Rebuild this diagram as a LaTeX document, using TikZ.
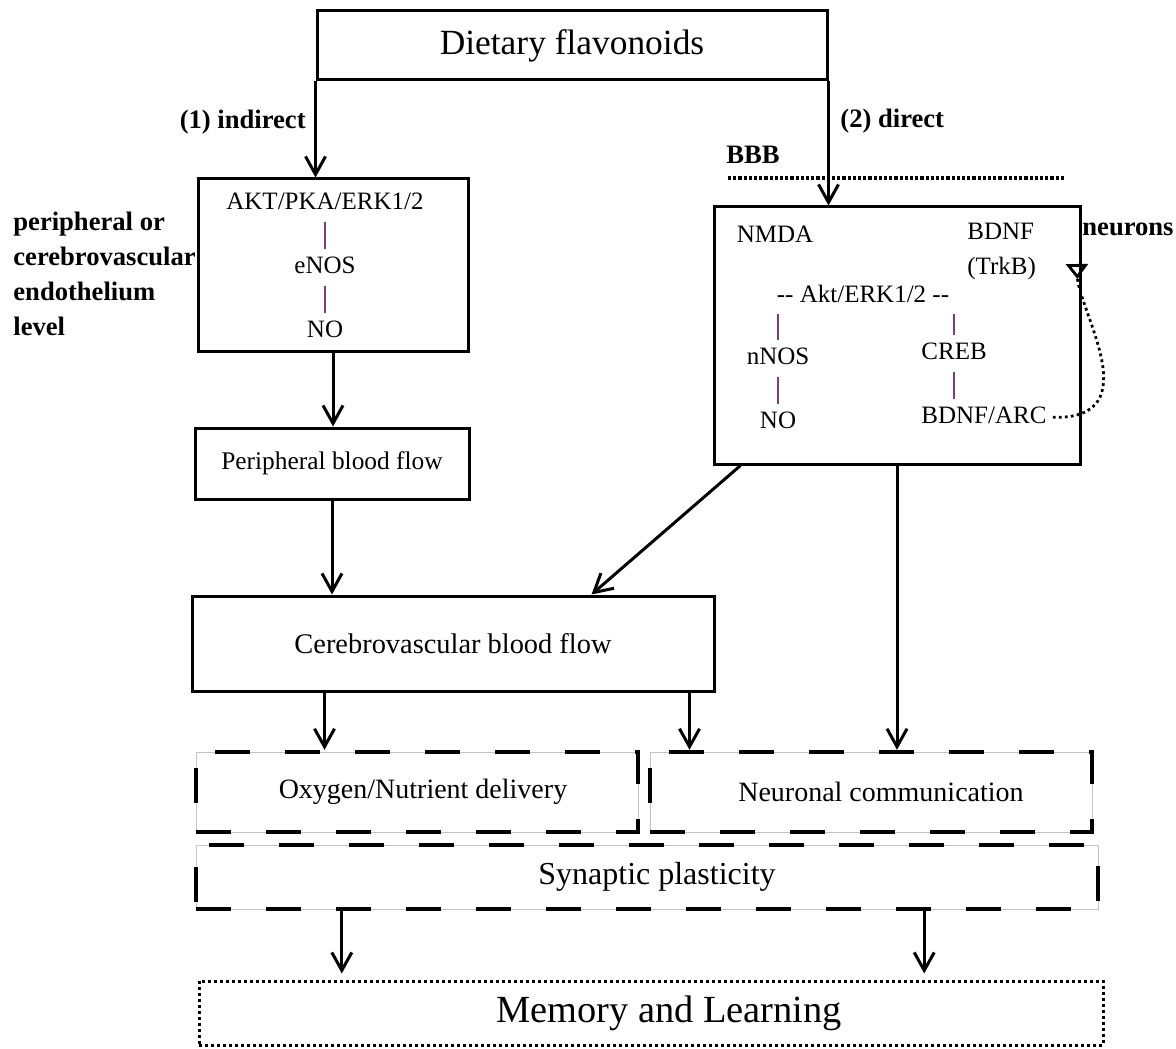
\documentclass[tikz,border=0pt]{standalone}
\usepackage{fontspec}
\setmainfont{Liberation Serif}
\usepackage{xcolor}
\definecolor{cBar}{HTML}{7A3E73}
\definecolor{cEdge}{HTML}{C4C4C4}
\usepackage{tikz}
\usetikzlibrary{positioning,arrows.meta}
\newcommand{\setfs}[2]{\fontsize{#1}{#2}\selectfont}
\tikzset{
  node-box/.style={draw,line width=1.5pt,inner sep=0pt,align=center},
  node-dash/.style={draw,line width=2.2pt,inner sep=0pt,
    dash pattern=on 17.5pt off 17.5pt,
    preaction={draw=cEdge,line width=0.5pt,solid}},
  node-dot/.style={draw,line width=1.5pt,inner sep=0pt,
    dash pattern=on 1.5pt off 1.5pt},
  node-txt/.style={inner sep=0pt,text height=9pt,text depth=3pt},
  node-lbl/.style={inner sep=0pt,font=\setfs{13.3}{17.5}\bfseries,align=left},
  arrow/.style={-{Straight Barb[length=9pt,width=10pt]},line width=1.5pt},
  arrow-loop/.style={-{Triangle[open,reversed,length=7.5pt,width=11pt]},
    line width=1.4pt,dash pattern=on 1.4pt off 1.6pt},
  link/.style={draw=cBar,line width=0.6pt,shorten <=3pt,shorten >=3pt},
  barrier/.style={line width=1.6pt,dash pattern=on 1.6pt off 1pt},
}

\begin{document}
\begin{tikzpicture}[x=0.5pt,y=-0.5pt,node distance=19.5pt,font=\setfs{12.5}{15}]
  \useasboundingbox (0,0) rectangle (1176,1048);

  % main boxes
  \node[node-box,minimum width=255pt,minimum height=34.5pt,
    font=\setfs{17.7}{21}] (diet) at (572,45.5) {Dietary flavonoids};
  \node[node-box,minimum width=135pt,minimum height=86pt] (endo) at (333,265) {};
  \node[node-box,minimum width=137pt,minimum height=35.5pt,
    font=\setfs{12.7}{15}] (periph) at (332,463.5) {Peripheral blood flow};
  \node[node-box,minimum width=261pt,minimum height=47.5pt,
    font=\setfs{14.2}{17}] (cereb) at (453,643.5) {Cerebrovascular blood flow};
  \node[node-box,minimum width=183pt,minimum height=128.5pt] (neuro) at (897,335.5) {};
  \node[node-dash,minimum width=221pt,minimum height=40pt,
    font=\setfs{14}{17}] (oxy) at (417,792) {\hspace*{6pt}Oxygen/Nutrient delivery};
  \node[node-dash,minimum width=221pt,minimum height=40pt,
    font=\setfs{14}{17}] (neucom) at (871,792) {\hspace*{10pt}Neuronal communication};
  \node[node-dash,minimum width=451pt,minimum height=32pt,
    font=\setfs{16}{19}] (synap) at (647,877) {\hspace*{10pt}Synaptic plasticity};
  \node[node-dot,minimum width=452pt,minimum height=32pt,
    font=\setfs{19.2}{23}] (memory) at (651,1013) {\hspace*{18pt}Memory and Learning};

  % endothelium chain
  \node[node-txt] (akt) at (325,204) {AKT/PKA/ERK1/2};
  \node[node-txt,below=of akt] (enos) {eNOS};
  \node[node-txt,below=of enos] (no1) {NO};
  \draw[link] (akt) -- (enos);
  \draw[link] (enos) -- (no1);

  % neuron chain
  \node[node-txt] (nmda) at (775,236.5) {NMDA};
  \node[node-txt,anchor=west] (bdnf) at (967,233) {BDNF};
  \node[node-txt,below=5.25pt of bdnf.south west,anchor=north west] (trkb) {(TrkB)};
  \node[node-txt] (akt2) at (863,296) {-{}- Akt/ERK1/2 -{}-};
  \node[node-txt] (nnos) at (778,358.5) {nNOS};
  \node[node-txt,below=of nnos] (no2) {NO};
  \node[node-txt,anchor=west] (creb) at (921,353.5) {CREB};
  \node[node-txt,below=of creb.south west,anchor=north west] (bdnfarc) {BDNF/ARC};
  \draw[link] (akt2.south -| nnos) -- (nnos);
  \draw[link] (nnos) -- (no2);
  \draw[link] (akt2.south -| creb) -- (creb);
  \draw[link] (creb) -- (creb |- bdnfarc.north);

  % labels
  \node[node-lbl,anchor=east] (ind) at (306,122) {(1) indirect};
  \node[node-lbl,anchor=west] (dir) at (840,121) {(2) direct};
  \node[node-lbl,anchor=west] (bbb) at (726,155) {BBB};
  \node[node-lbl,anchor=west] (neurons) at (1082,229.5) {neurons};
  \node[node-lbl,anchor=west] (level) at (13,274)
    {peripheral or\\cerebrovascular\\endothelium\\level};

  % blood-brain barrier
  \coordinate (bbb-l) at (728,178);
  \coordinate (bbb-r) at (1065,178);
  \draw[barrier] (bbb-l) -- (bbb-r);

  % arrows
  \draw[arrow] (diet.south west) -- (diet.south west |- endo.north);
  \draw[arrow] (diet.south east) -- (diet.south east |- neuro.north);
  \draw[arrow] (endo.south) -- (endo.south |- periph.north);
  \draw[arrow] (periph.south) -- (periph.south |- cereb.north);
  \draw[arrow] ([xshift=14pt]neuro.south west) -- ([xshift=-62pt]cereb.north east);
  \draw[arrow] ([xshift=67pt]cereb.south west) -- ([xshift=67pt]cereb.south west |- oxy.north);
  \draw[arrow] ([xshift=-13pt]cereb.south east) -- ([xshift=-13pt]cereb.south east |- neucom.north);
  \draw[arrow] (neuro.south) -- (neuro.south |- neucom.north);
  \draw[arrow,shorten >=3pt] ([xshift=74pt]synap.south west) -- ([xshift=74pt]synap.south west |- memory.north);
  \draw[arrow,shorten >=3pt] ([xshift=-88pt]synap.south east) -- ([xshift=-88pt]synap.south east |- memory.north);

  % feedback loop
  \coordinate (trkb-in) at (1077,264);
  \draw[arrow-loop] ([xshift=3pt]bdnfarc.east) .. controls (1150,420) and (1078,310) .. (trkb-in);
\end{tikzpicture}
\end{document}
